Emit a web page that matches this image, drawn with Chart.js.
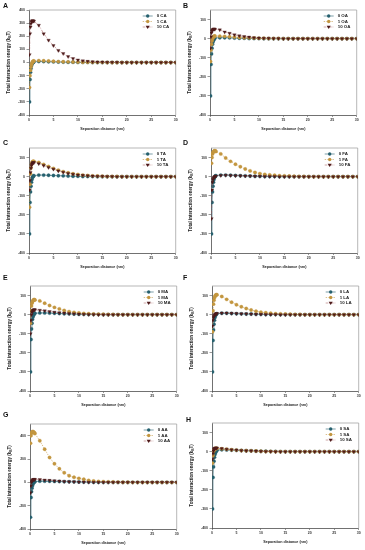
<!DOCTYPE html>
<html><head><meta charset="utf-8">
<script src="https://cdn.jsdelivr.net/npm/chart.js@4.4.0/dist/chart.umd.min.js"></script>
<style>
body{margin:0;background:#fff;width:365px;height:550px;position:relative;overflow:hidden;font-family:"Liberation Sans",Arial,sans-serif}
canvas{position:absolute}
.lab{position:absolute;font-weight:bold;font-size:7px;color:#111;line-height:7px}
</style></head>
<body>
<script>
// separation distance (nm)
const distance = [0.1,0.2,0.3,0.4,0.5,0.6,0.7,0.8,0.9,1,
  2,3,4,5,6,7,8,9,10,11,12,13,14,15,16,17,18,19,20,21,22,23,24,25,26,27,28,29,30];

// A: CA
const ca0  = [-300,-130,-75,-45,-25,-12,-5,0,3,5, 8,7,6,5,4,3,2,2,1,1, 1,0,0,0,0,0,0,0,0,0, 0,0,0,0,0,0,0,0,0];
const ca1  = [-190,-100,-60,-35,-18,-5,3,8,10,12, 14,13,11,9,7,6,5,4,3,2, 2,1,1,1,0,0,0,0,0,0, 0,0,0,0,0,0,0,0,0];
const ca10 = [60,220,270,295,310,315,318,318,316,314, 284,220,170,129,92,68,45,30,20,13, 9,6,4,3,2,1,1,0,0,0, 0,0,0,0,0,0,0,0,0];
// B: OA
const oa0  = [-300,-135,-80,-50,-30,-18,-10,-4,0,3, 5,5,4,3,2,2,1,1,1,0, 0,0,0,0,0,0,0,0,0,0, 0,0,0,0,0,0,0,0,0];
const oa1  = [-120,-60,-30,-12,-2,5,9,12,13,14, 13,12,10,8,6,5,4,3,2,2, 1,1,1,0,0,0,0,0,0,0, 0,0,0,0,0,0,0,0,0];
const oa10 = [-50,10,30,40,45,48,50,50,50,49, 46,35,28,20,15,11,8,5,3,2, 2,1,1,0,0,0,0,0,0,0, 0,0,0,0,0,0,0,0,0];
// C: TA
const ta0  = [-300,-135,-80,-50,-30,-15,-5,0,3,5, 8,8,7,6,5,4,3,2,2,1, 1,1,0,0,0,0,0,0,0,0, 0,0,0,0,0,0,0,0,0];
const ta1  = [-160,-40,15,45,62,72,77,80,80,80, 74,64,53,43,34,26,20,15,11,8, 6,4,3,2,1,1,1,0,0,0, 0,0,0,0,0,0,0,0,0];
const ta10 = [-70,-20,22,44,58,66,71,73,74,73, 68,58,48,39,30,23,17,13,9,7, 5,3,2,2,1,1,0,0,0,0, 0,0,0,0,0,0,0,0,0];
// D: FA
const fa0  = [-300,-135,-80,-50,-30,-15,-5,0,3,5, 8,8,7,6,5,4,3,2,2,1, 1,1,0,0,0,0,0,0,0,0, 0,0,0,0,0,0,0,0,0];
const fa1  = [70,100,118,126,130,133,135,135,134,132, 119,98,80,65,52,40,30,22,16,12, 9,7,5,4,3,2,1,1,0,0, 0,0,0,0,0,0,0,0,0];
const fa10 = [-220,-70,-30,-15,-8,-4,-2,0,2,3, 6,7,6,5,4,3,3,2,2,1, 1,1,0,0,0,0,0,0,0,0, 0,0,0,0,0,0,0,0,0];
// E: MA
const ma0  = [-300,-130,-75,-45,-25,-12,-4,2,5,7, 9,9,8,7,6,5,4,3,2,2, 1,1,1,0,0,0,0,0,0,0, 0,0,0,0,0,0,0,0,0];
const ma1  = [-45,20,45,60,68,73,76,78,78,77, 72,60,48,38,30,22,16,12,9,6, 5,3,2,2,1,1,0,0,0,0, 0,0,0,0,0,0,0,0,0];
const ma10 = [-100,-30,0,12,18,22,24,25,25,25, 23,20,16,13,10,8,6,4,3,2, 1,1,0,0,0,0,0,0,0,0, 0,0,0,0,0,0,0,0,0];
// F: LA
const la0  = [-300,-135,-80,-50,-30,-15,-6,0,3,5, 7,7,6,5,4,3,3,2,2,1, 1,1,0,0,0,0,0,0,0,0, 0,0,0,0,0,0,0,0,0];
const la1  = [-90,20,55,75,88,95,100,103,104,104, 95,80,65,52,41,32,24,18,13,10, 7,5,4,3,2,1,1,0,0,0, 0,0,0,0,0,0,0,0,0];
const la10 = [-60,-30,-15,-8,-3,0,2,4,5,6, 8,8,7,6,5,4,3,2,2,1, 1,1,0,0,0,0,0,0,0,0, 0,0,0,0,0,0,0,0,0];
// G: AA
const aa0  = [-300,-130,-80,-50,-30,-15,-5,0,4,6, 10,10,9,8,7,6,5,4,3,2, 2,1,1,0,0,0,0,0,0,0, 0,0,0,0,0,0,0,0,0];
const aa1  = [335,400,420,430,434,434,432,428,424,418, 357,284,213,159,116,82,57,43,34,26, 17,11,8,6,4,3,2,1,1,0, 0,0,0,0,0,0,0,0,0];
const aa10 = [-90,-30,0,12,18,22,24,25,25,25, 24,20,17,14,11,8,6,4,3,2, 1,1,0,0,0,0,0,0,0,0, 0,0,0,0,0,0,0,0,0];
// H: SA
const sa0  = [-300,-135,-80,-50,-30,-15,-6,0,4,7, 10,9,8,7,6,5,4,3,2,2, 1,1,0,0,0,0,0,0,0,0, 0,0,0,0,0,0,0,0,0];
const sa1  = [-60,-20,0,8,12,15,16,17,17,17, 15,13,10,8,6,5,4,3,2,1, 1,0,0,0,0,0,0,0,0,0, 0,0,0,0,0,0,0,0,0];
const sa10 = [-40,-10,5,12,16,18,19,19,19,19, 16,13,10,8,6,5,4,3,2,1, 1,0,0,0,0,0,0,0,0,0, 0,0,0,0,0,0,0,0,0];

// legend labels
const legendCA = ['0 CA','1 CA','10 CA'];
const legendOA = ['0 OA','1 OA','10 OA'];
const legendTA = ['0 TA','1 TA','10 TA'];
const legendFA = ['0 FA','1 FA','10 FA'];
const legendMA = ['0 MA','1 MA','10 MA'];
const legendLA = ['0 LA','1 LA','10 LA'];
const legendAA = ['0 AA','1 AA','10 AA'];
const legendSA = ['0 SA','1 SA','10 SA'];

// y axis range [min, max, step]
const yRangeA = [-400, 400, 100];
const yRangeStd = [-400, 150, 100];
const yRangeG = [-400, 500, 200];
const xRange = [0, 30, 5];

const xTitle = 'Separation distance (nm)';
const yTitleParts = ['Total interaction energy (k', 'B', 'T)'];
const panelLetters = ['A','B','C','D','E','F','G','H'];

const FONT = '"Liberation Sans", Arial, sans-serif';
const panels = [
  {letter:'A', series:[ca0,ca1,ca10], legend:legendCA, y:yRangeA,  L:29, T:10,  lx:3,   ly:2},
  {letter:'B', series:[oa0,oa1,oa10], legend:legendOA, y:yRangeStd, L:210, T:10, lx:183, ly:2},
  {letter:'C', series:[ta0,ta1,ta10], legend:legendTA, y:yRangeStd, L:29, T:148, lx:3,  ly:139},
  {letter:'D', series:[fa0,fa1,fa10], legend:legendFA, y:yRangeStd, L:211, T:148, lx:183, ly:139},
  {letter:'E', series:[ma0,ma1,ma10], legend:legendMA, y:yRangeStd, L:30, T:286, lx:3,  ly:274},
  {letter:'F', series:[la0,la1,la10], legend:legendLA, y:yRangeStd, L:212, T:286, lx:183, ly:274},
  {letter:'G', series:[aa0,aa1,aa10], legend:legendAA, y:yRangeG,  L:30, T:424, lx:3,  ly:411},
  {letter:'H', series:[sa0,sa1,sa10], legend:legendSA, y:yRangeStd, L:212, T:423, lx:186, ly:416}
];

const styles = [
  {color:'#25606e', line:'#25606e', dash:[], point:'circle', r:1.7, rot:0},
  {color:'#c3963f', line:'#c3963f', dash:[1.4,1.2], point:'circle', r:1.7, rot:0},
  {color:'#4e1b1b', line:'rgba(160,80,80,0.85)', dash:[2.6,1,0.7,1], point:'triangle', r:2, rot:180}
];

const CW = 180, CH = 137, PADL = 29, PADT = 10;

const decorPlugin = {
  id:'decor',
  beforeDatasetsDraw(chart){
    const a = chart.chartArea, ctx = chart.ctx;
    ctx.save();
    ctx.strokeStyle = '#9a9a9a'; ctx.lineWidth = 0.7;
    ctx.beginPath();
    ctx.moveTo(a.left, a.top); ctx.lineTo(a.right, a.top); ctx.lineTo(a.right, a.bottom);
    ctx.stroke();
    ctx.restore();
  },
  afterDraw(chart){
    const a = chart.chartArea, ctx = chart.ctx;
    const p = chart.options.plugins.decor;
    ctx.save();
    ctx.fillStyle = '#222';
    ctx.font = 'bold 3.7px ' + FONT;
    ctx.textAlign = 'center'; ctx.textBaseline = 'middle';
    ctx.fillText(xTitle, (a.left + a.right)/2, a.bottom + 13.5);
    ctx.translate(a.left - 21, (a.top + a.bottom)/2);
    ctx.rotate(-Math.PI/2);
    const big = 'bold 4.5px ' + FONT, small = 'bold 3.2px ' + FONT;
    ctx.font = big; const w1 = ctx.measureText(yTitleParts[0]).width, w3 = ctx.measureText(yTitleParts[2]).width;
    ctx.font = small; const w2 = ctx.measureText(yTitleParts[1]).width;
    let x = -(w1 + w2 + w3)/2;
    ctx.textAlign = 'left'; ctx.textBaseline = 'alphabetic';
    ctx.font = big; ctx.fillText(yTitleParts[0], x, 1.6); x += w1;
    ctx.font = small; ctx.fillText(yTitleParts[1], x, 2.6); x += w2;
    ctx.font = big; ctx.fillText(yTitleParts[2], x, 1.6);
    ctx.restore();
    ctx.save();
    const rows = [6, 11.5, 17];
    p.labels.forEach((lab, i) => {
      const s = styles[i];
      const yy = a.top + rows[i];
      const x0 = a.right - 33, x1 = a.right - 23;
      ctx.strokeStyle = s.line; ctx.lineWidth = 0.6; ctx.setLineDash(s.dash);
      ctx.beginPath(); ctx.moveTo(x0, yy); ctx.lineTo(x1, yy); ctx.stroke();
      ctx.setLineDash([]);
      ctx.fillStyle = s.color;
      const cx = (x0 + x1)/2;
      if (s.point === 'circle') {
        ctx.beginPath(); ctx.arc(cx, yy, s.r, 0, Math.PI*2); ctx.fill();
      } else {
        const r = s.r;
        ctx.beginPath(); ctx.moveTo(cx - r, yy - r*0.6); ctx.lineTo(cx + r, yy - r*0.6); ctx.lineTo(cx, yy + r); ctx.closePath(); ctx.fill();
      }
      ctx.fillStyle = '#222';
      ctx.font = 'bold 4.4px ' + FONT;
      ctx.textAlign = 'left'; ctx.textBaseline = 'middle';
      ctx.fillText(lab, a.right - 19, yy + 0.2);
    });
    ctx.restore();
  }
};

panels.forEach((pn, idx) => {
  const cv = document.createElement('canvas');
  cv.width = CW; cv.height = CH;
  cv.style.left = (pn.L - PADL) + 'px';
  cv.style.top = (pn.T - PADT) + 'px';
  cv.style.width = CW + 'px'; cv.style.height = CH + 'px';
  document.body.appendChild(cv);
  const lab = document.createElement('div');
  lab.className = 'lab'; lab.textContent = panelLetters[idx];
  lab.style.left = pn.lx + 'px'; lab.style.top = pn.ly + 'px';
  document.body.appendChild(lab);

  const datasets = pn.series.map((arr, i) => {
    const s = styles[i];
    return {
      label: pn.legend[i],
      order: 3 - i,
      data: distance.map((x, k) => ({x: x, y: arr[k]})),
      borderColor: s.line, borderWidth: 0.6, borderDash: s.dash,
      pointStyle: s.point, pointRotation: s.rot, pointRadius: s.r,
      pointBackgroundColor: s.color, pointBorderColor: s.color, pointBorderWidth: 0.3,
      tension: 0, fill: false
    };
  });
  const tickFont = {size: 3.5, weight: 'bold', family: FONT};
  new Chart(cv, {
    type: 'line',
    data: {datasets},
    options: {
      responsive: false, animation: false, devicePixelRatio: 1,
      layout: {padding: {left: 0, top: PADT, right: CW - PADL - 147, bottom: 0}},
      plugins: {legend: {display: false}, tooltip: {enabled: false}, decor: {labels: pn.legend}},
      scales: {
        x: {
          type: 'linear', min: xRange[0], max: xRange[1],
          ticks: {stepSize: xRange[2], font: tickFont, color: '#333', padding: 0.5, maxRotation: 0},
          grid: {drawOnChartArea: false, tickLength: 2, color: '#333', lineWidth: 0.5},
          border: {color: '#333', width: 0.7},
          afterFit(s){ s.height = CH - PADT - 105; }
        },
        y: {
          type: 'linear', min: pn.y[0], max: pn.y[1],
          ticks: {stepSize: pn.y[2], includeBounds: false, font: tickFont, color: '#333', padding: 1.5},
          grid: {drawOnChartArea: false, tickLength: 2.5, color: '#333', lineWidth: 0.5},
          border: {color: '#333', width: 0.7},
          afterFit(s){ s.width = PADL; }
        }
      }
    },
    plugins: [decorPlugin]
  });
});
</script>
</body></html>
